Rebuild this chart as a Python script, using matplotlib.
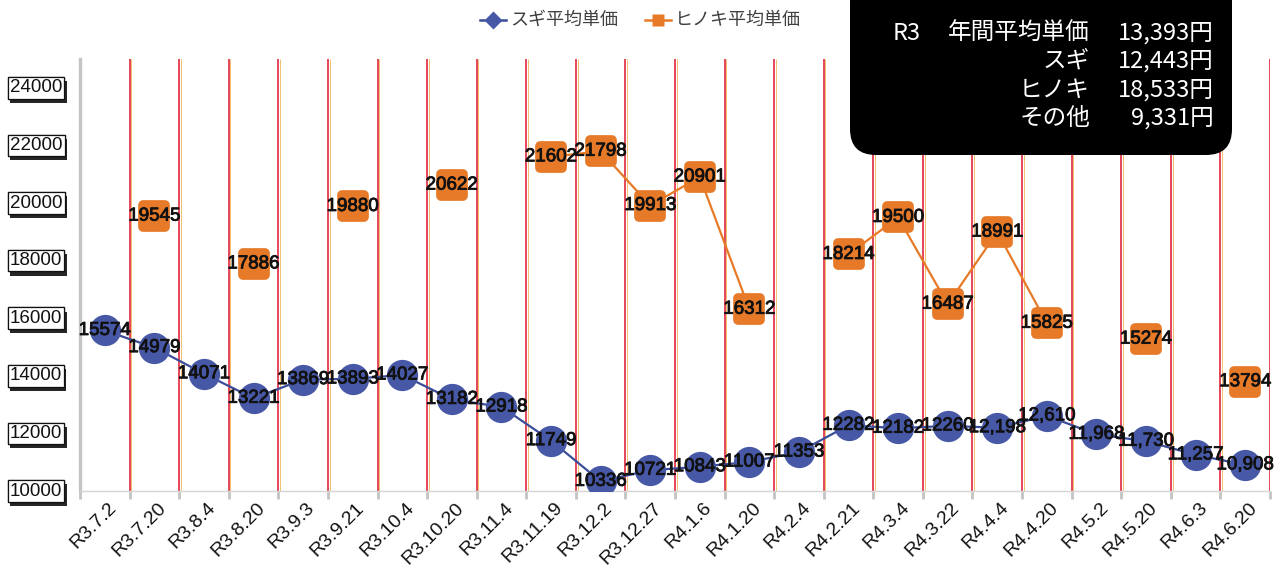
import numpy as np
import matplotlib
matplotlib.use("Agg")
import matplotlib.pyplot as plt
import matplotlib.patheffects as pe
from matplotlib.lines import Line2D
from matplotlib.patches import FancyBboxPatch
from matplotlib.markers import MarkerStyle
from matplotlib.transforms import IdentityTransform, blended_transform_factory, ScaledTranslation

plt.rcParams['font.family'] = ['Liberation Sans', 'Noto Sans CJK JP', 'DejaVu Sans']

categories = ["R3.7.2", "R3.7.20", "R3.8.4", "R3.8.20", "R3.9.3", "R3.9.21", "R3.10.4",
              "R3.10.20", "R3.11.4", "R3.11.19", "R3.12.2", "R3.12.27", "R4.1.6", "R4.1.20",
              "R4.2.4", "R4.2.21", "R4.3.4", "R4.3.22", "R4.4.4", "R4.4.20", "R4.5.2",
              "R4.5.20", "R4.6.3", "R4.6.20"]
sugi = [15574, 14979, 14071, 13221, 13869, 13893, 14027, 13182, 12918, 11749, 10336, 10721,
        10843, 11007, 11353, 12282, 12182, 12260, 12198, 12610, 11968, 11730, 11257, 10908]
hinoki = [None, 19545, None, 17886, None, 19880, None, 20622, None, 21602, 21798, 19913,
          20901, 16312, None, 18214, 19500, 16487, 18991, 15825, None, 15274, None, 13794]
yticks = [10000, 12000, 14000, 16000, 18000, 20000, 22000, 24000]
legend_labels = ["スギ平均単価", "ヒノキ平均単価"]
box_rows = [("R3", "年間平均単価", "13,393円"), ("", "スギ", "12,443円"),
            ("", "ヒノキ", "18,533円"), ("", "その他", "9,331円")]

BLUE = "#4658a6"
BLUE_LINE = "#3b4d99"
ORANGE = "#e67a28"

W, H = 1275, 573
fig = plt.figure(figsize=(W / 100, H / 100), dpi=100)
fig.patch.set_facecolor("white")

ax_l, ax_r, ax_b, ax_t = 80, 1270, 491, 59
ax = fig.add_axes([ax_l / W, 1 - ax_b / H, (ax_r - ax_l) / W, (ax_b - ax_t) / H])
ax.set_xlim(-0.5, len(categories) - 0.5)
ax.set_ylim(10000, 25000)

x = np.arange(len(categories))
h = np.array([np.nan if v is None else v for v in hinoki], dtype=float)
s = np.array(sugi, dtype=float)

# vertical boundary lines
for b in np.arange(0.5, len(categories), 1.0):
    ax.plot([b, b], [10000, 25000], color="#e2384e", lw=1.3, zorder=1, solid_capstyle="butt")
    ax.plot([b + 0.035, b + 0.035], [10000, 25000], color="#eeb04a", lw=0.7, zorder=1,
            solid_capstyle="butt", alpha=0.8)

ax.spines['top'].set_visible(False)
ax.spines['right'].set_visible(False)
ax.spines['left'].set_color("#c4c4c4")
ax.spines['left'].set_linewidth(2.4)
ax.spines['bottom'].set_color("#d6d6d6")
ax.spines['bottom'].set_linewidth(1.0)

ax.set_yticks(yticks)
ax.tick_params(axis='y', length=0, labelleft=False)
ax.set_xticks(x)
ax.set_xticklabels(categories, rotation=45, ha='right', va='top', fontsize=14, color="#111111")
ax.tick_params(axis='x', which='major', length=0, pad=6)
shift = ScaledTranslation(15 / 100, 0, fig.dpi_scale_trans)
for lbl in ax.get_xticklabels():
    lbl.set_transform(lbl.get_transform() + shift)
ax.set_xticks(np.arange(-0.5, len(categories), 1.0), minor=True)
ax.tick_params(axis='x', which='minor', length=6, width=2, color="#c4c4c4")

# lines and markers
ax.plot(x, s, color=BLUE_LINE, lw=1.6, zorder=3)
ax.plot(x, h, color=ORANGE, lw=1.6, zorder=3)
ax.plot(x, s, ls='none', marker='o', ms=22.5, mfc=BLUE, mec=BLUE, mew=0, zorder=4)
sq = MarkerStyle('s', joinstyle='round')
ax.plot(x, h, ls='none', marker=sq, ms=16, mfc=ORANGE, mec=ORANGE, mew=7, zorder=4)

stroke = [pe.withStroke(linewidth=0.6, foreground="#111111")]
for i, v in enumerate(sugi):
    lab = f"{v:,}" if i >= 18 else str(v)
    ax.text(i, v, lab, ha='center', va='center', fontsize=13.5, color="#111111",
            zorder=5, path_effects=stroke)
for i, v in enumerate(hinoki):
    if v is None:
        continue
    ax.text(i, v, str(v), ha='center', va='center', fontsize=13.5, color="#111111",
            zorder=5, path_effects=stroke)

# y tick labels with boxed shadow style
tr = blended_transform_factory(fig.transFigure, ax.transData)
for yv in yticks:
    t = ax.text(36 / W, yv, str(yv), transform=tr, ha='center', va='center', fontsize=13.5,
                color="#111111",
                bbox=dict(boxstyle="square,pad=0.12", fc="white", ec="#111111", lw=0.9))
    t.get_bbox_patch().set_path_effects([
        pe.withSimplePatchShadow(offset=(1.5, -3), shadow_rgbFace="black", alpha=0.85),
        pe.Normal()])

# legend (figure pixel coordinates)
idt = IdentityTransform()
ly = H - 20
for (x0, col, mk, lab) in [(480, BLUE_LINE, 'D', legend_labels[0]),
                           (645, ORANGE, 's', legend_labels[1])]:
    fig.add_artist(Line2D([x0, x0 + 26], [ly, ly], color=col, lw=1.8, transform=idt))
    fig.add_artist(Line2D([x0 + 13], [ly], marker=mk, ms=9,
                          mfc=BLUE if mk == 'D' else ORANGE, mec='none', transform=idt))
    fig.text((x0 + 30) / W, ly / H, lab, ha='left', va='center', fontsize=13,
             color="#404040", family=['Noto Sans CJK JP', 'DejaVu Sans'])

# info box
box = FancyBboxPatch((850, H - 155), 382, 180, boxstyle="round,pad=0,rounding_size=26",
                     fc="black", ec="none", transform=idt, zorder=10)
fig.add_artist(box)
for k, (a, b, c) in enumerate(box_rows):
    yy = (H - 33 - 28.5 * k) / H
    kw = dict(va='center', fontsize=17, color='white', zorder=11,
              family=['Noto Sans CJK JP', 'DejaVu Sans'])
    if a:
        fig.text(893 / W, yy, a, ha='left', **kw)
    fig.text(1090 / W, yy, b, ha='right', **kw)
    fig.text(1214 / W, yy, c, ha='right', **kw)

fig.savefig("out.png", dpi=100, facecolor="white")
